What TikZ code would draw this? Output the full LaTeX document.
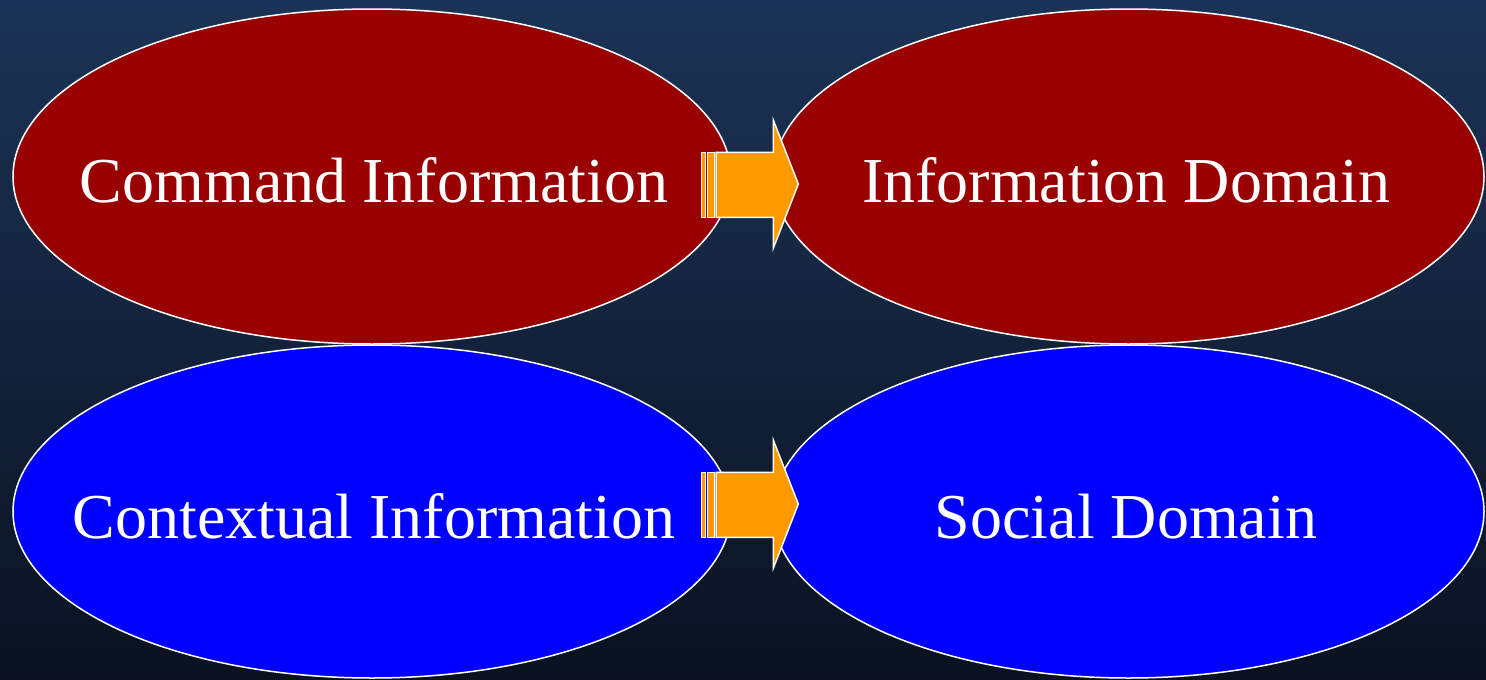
\documentclass[tikz,border=0pt]{standalone}
\usepackage{fontspec}
\setmainfont{Liberation Serif}
\usetikzlibrary{shapes.geometric}
\definecolor{bgtop}{HTML}{1B3356}
\definecolor{bgbot}{HTML}{0A1220}
\definecolor{darkred}{HTML}{990000}
\definecolor{brightblue}{HTML}{0000FF}
\definecolor{arroworange}{HTML}{FF9900}
\tikzset{
  oval/.style={ellipse, draw=white, line width=1.5pt, inner sep=0pt},
  redoval/.style={oval, fill=darkred},
  blueoval/.style={oval, fill=brightblue},
  label/.style={text=white, font=\fontsize{64}{68}\selectfont, anchor=base},
  blockarrow/.style={fill=arroworange, draw=white, line width=1.5pt, line join=miter},
}
\begin{document}
\begin{tikzpicture}[x=1pt,y=-1pt]
\shade[top color=bgtop, bottom color=bgbot] (0,0) rectangle (1486,680);
\useasboundingbox (0,0) rectangle (1486,680);
% ellipses
\node[redoval, minimum width=718pt, minimum height=335pt] (ci) at (372,176.5) {};
\node[redoval, minimum width=711pt, minimum height=335pt] (id) at (1128.5,176.5) {};
\node[blueoval, minimum width=718pt, minimum height=333pt] (cx) at (372,511.5) {};
\node[blueoval, minimum width=711pt, minimum height=333pt] (sd) at (1128.5,511.5) {};
% labels
\node[label] (ciT) at (374,202) {Command Information};
\node[label] (idT) at (1126,202) {Information Domain};
\node[label] (cxT) at (374,538) {Contextual Information};
\node[label] (sdT) at (1126,538) {Social Domain};
% block arrows
\foreach \n/\yc in {a1/184, a2/504}{
  \coordinate (\n) at (700,\yc);
  \begin{scope}[shift={(\n)}]
    \draw[blockarrow] (1.7,-31.7) rectangle (5.7,33.3);
    \draw[blockarrow] (7.3,-31.7) rectangle (14.3,33.3);
    \draw[blockarrow] (16,-31.7) -- (73.3,-31.7) -- (73.3,-64) -- (98.3,0)
      -- (73.3,64.3) -- (73.3,33.3) -- (16,33.3) -- cycle;
  \end{scope}
}
\end{tikzpicture}
\end{document}
